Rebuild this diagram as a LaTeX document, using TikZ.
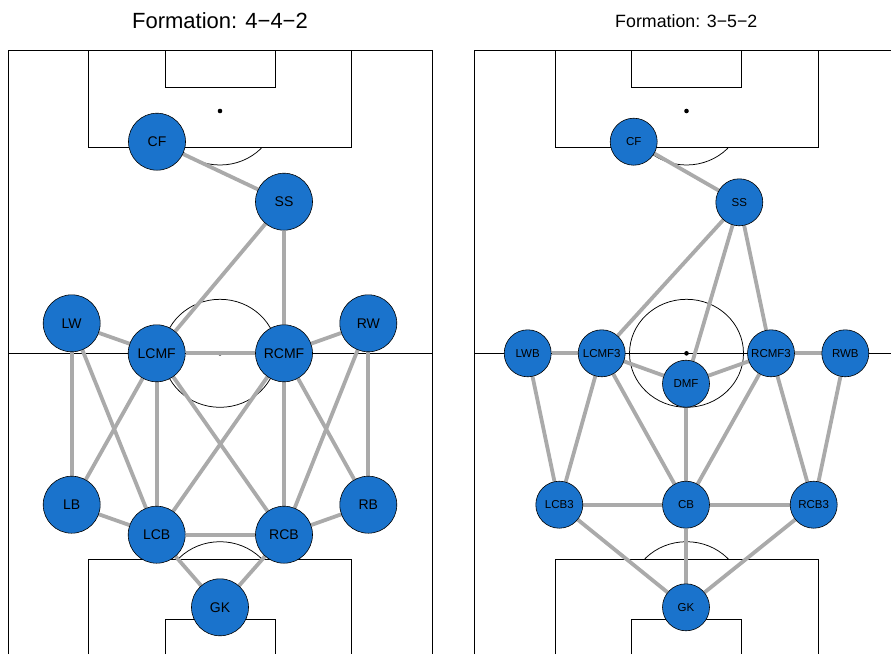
\documentclass[tikz,border=0pt]{standalone}
\usepackage{fontspec}
\setmainfont{Liberation Sans}
\usetikzlibrary{backgrounds}
\definecolor{nodeblue}{RGB}{26,115,204}
\definecolor{edgegray}{RGB}{170,170,170}
\begin{document}
\begin{tikzpicture}[x=1pt,y=-1pt,
  pline/.style={draw=black,line width=0.75pt},
  link/.style={draw=edgegray,line width=3.8pt},
  pl/.style={circle,draw=black,line width=0.6pt,fill=nodeblue,inner sep=0pt,minimum size=57pt,font=\fontsize{14}{16}\selectfont},
  pr/.style={circle,draw=black,line width=0.6pt,fill=nodeblue,inner sep=0pt,minimum size=47pt,font=\fontsize{11.5}{13}\selectfont},
  ttl/.style={anchor=base,inner sep=0pt}
]
\useasboundingbox (0,0) rectangle (891,654);
% titles
\node[ttl,font=\fontsize{22}{26}\selectfont] (t1) at (220,28.3) {Formation: 4−4−2};
\node[ttl,font=\fontsize{17.8}{21}\selectfont] (t2) at (686.3,27.3) {Formation: 3−5−2};

% left nodes
\node[pl] (CF) at (157,141.7) {CF};
\node[pl] (SS) at (284,201.7) {SS};
\node[pl] (LW) at (71.7,323.3) {LW};
\node[pl] (LCMF) at (156.7,353.3) {LCMF};
\node[pl] (RCMF) at (284,353.3) {RCMF};
\node[pl] (RW) at (368.3,323.3) {RW};
\node[pl] (LB) at (71.7,504.7) {LB};
\node[pl] (LCB) at (156.7,534.7) {LCB};
\node[pl] (RCB) at (284,534.7) {RCB};
\node[pl] (RB) at (368.3,504.7) {RB};
\node[pl] (GK) at (220,607.3) {GK};

% right nodes
\node[pr] (rCF) at (633.7,141.7) {CF};
\node[pr] (rSS) at (739.3,202.3) {SS};
\node[pr] (LWB) at (527.7,353.3) {LWB};
\node[pr] (LCMF3) at (601.7,353.3) {LCMF3};
\node[pr] (DMF) at (686,383.7) {DMF};
\node[pr] (RCMF3) at (771,353.3) {RCMF3};
\node[pr] (RWB) at (845.3,353.3) {RWB};
\node[pr] (LCB3) at (559.3,504.7) {LCB3};
\node[pr] (CB) at (686,504.7) {CB};
\node[pr] (RCB3) at (813.7,504.7) {RCB3};
\node[pr] (rGK) at (686,607.3) {GK};

\begin{pgfonlayer}{background}
% left pitch
\draw[pline] (8.3,654) -- (8.3,50.7) -- (432.3,50.7) -- (432.3,654);
\draw[pline] (8.3,353.3) -- (432.3,353.3);
\draw[pline] (88.7,50.7) -- (88.7,147) -- (351.7,147) -- (351.7,50.7);
\draw[pline] (165,50.7) -- (165,87) -- (275.3,87) -- (275.3,50.7);
\fill (220,111) circle (2.3pt);
\draw[pline] (220,353.3) ellipse [x radius=57pt,y radius=54pt];
\fill (220,353.3) circle (2.3pt);
\begin{scope}
\clip (0,147) rectangle (445,300);
\draw[pline] (220,111) ellipse [x radius=57pt,y radius=54pt];
\end{scope}
\draw[pline] (88.7,654) -- (88.7,559.3) -- (351.7,559.3) -- (351.7,654);
\draw[pline] (165,654) -- (165,619.7) -- (275.3,619.7) -- (275.3,654);
\fill (220,595.7) circle (2.3pt);
\begin{scope}
\clip (0,400) rectangle (445,559.3);
\draw[pline] (220,595.7) ellipse [x radius=57pt,y radius=54pt];
\end{scope}

% right pitch
\draw[pline] (474.8,654) -- (474.8,50.7) -- (891,50.7);
\draw[pline] (474.8,353.3) -- (891,353.3);
\draw[pline] (555.2,50.7) -- (555.2,147) -- (818.2,147) -- (818.2,50.7);
\draw[pline] (631.5,50.7) -- (631.5,87) -- (741.8,87) -- (741.8,50.7);
\fill (686.5,111) circle (2.3pt);
\draw[pline] (686.5,353.3) ellipse [x radius=57pt,y radius=54pt];
\fill (686.5,353.3) circle (2.3pt);
\begin{scope}
\clip (446,147) rectangle (891,300);
\draw[pline] (686.5,111) ellipse [x radius=57pt,y radius=54pt];
\end{scope}
\draw[pline] (555.2,654) -- (555.2,559.3) -- (818.2,559.3) -- (818.2,654);
\draw[pline] (631.5,654) -- (631.5,619.7) -- (741.8,619.7) -- (741.8,654);
\fill (686.5,595.7) circle (2.3pt);
\begin{scope}
\clip (446,400) rectangle (891,559.3);
\draw[pline] (686.5,595.7) ellipse [x radius=57pt,y radius=54pt];
\end{scope}

% left links
\draw[link] (CF) -- (SS);
\draw[link] (SS) -- (LCMF);
\draw[link] (SS) -- (RCMF);
\draw[link] (LW) -- (LCMF);
\draw[link] (LCMF) -- (RCMF);
\draw[link] (RCMF) -- (RW);
\draw[link] (LW) -- (LB);
\draw[link] (LW) -- (LCB);
\draw[link] (LCMF) -- (LB);
\draw[link] (LCMF) -- (LCB);
\draw[link] (LCMF) -- (RCB);
\draw[link] (RCMF) -- (LCB);
\draw[link] (RCMF) -- (RCB);
\draw[link] (RCMF) -- (RB);
\draw[link] (RW) -- (RCB);
\draw[link] (RW) -- (RB);
\draw[link] (LB) -- (LCB);
\draw[link] (LCB) -- (RCB);
\draw[link] (RCB) -- (RB);
\draw[link] (LCB) -- (GK);
\draw[link] (RCB) -- (GK);

% right links
\draw[link] (rCF) -- (rSS);
\draw[link] (rSS) -- (LCMF3);
\draw[link] (rSS) -- (DMF);
\draw[link] (rSS) -- (RCMF3);
\draw[link] (LWB) -- (LCMF3);
\draw[link] (LCMF3) -- (DMF);
\draw[link] (DMF) -- (RCMF3);
\draw[link] (RCMF3) -- (RWB);
\draw[link] (LWB) -- (LCB3);
\draw[link] (LCMF3) -- (LCB3);
\draw[link] (LCMF3) -- (CB);
\draw[link] (DMF) -- (CB);
\draw[link] (RCMF3) -- (CB);
\draw[link] (RCMF3) -- (RCB3);
\draw[link] (RWB) -- (RCB3);
\draw[link] (LCB3) -- (CB);
\draw[link] (CB) -- (RCB3);
\draw[link] (LCB3) -- (rGK);
\draw[link] (CB) -- (rGK);
\draw[link] (RCB3) -- (rGK);
\end{pgfonlayer}
\end{tikzpicture}
\end{document}
